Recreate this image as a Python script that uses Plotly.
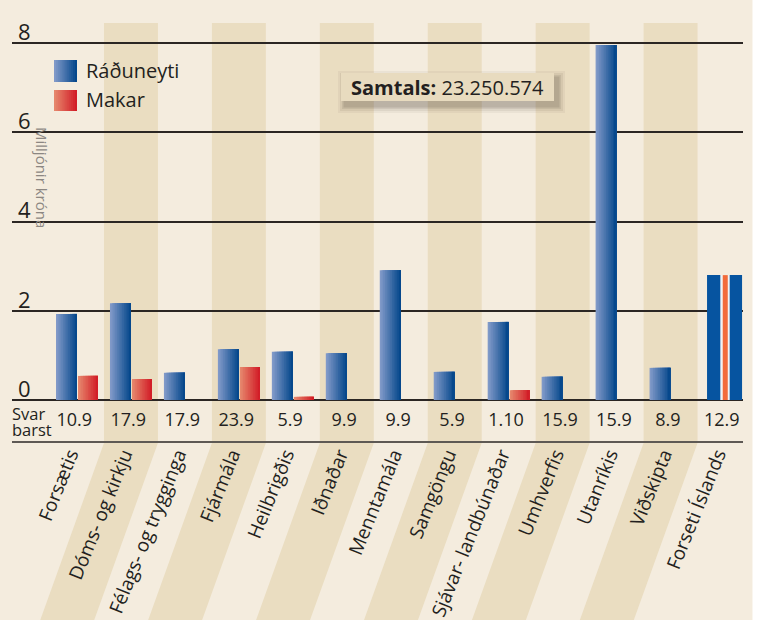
import plotly.graph_objects as go

# ---------------- data ----------------
categories = ["Forsætis", "Dóms- og kirkju", "Félags- og trygginga", "Fjármála",
              "Heilbrigðis", "Iðnaðar", "Menntamála", "Samgöngu",
              "Sjávar- landbúnaðar", "Umhverfis", "Utanríkis", "Viðskipta",
              "Forseti Íslands"]
raduneyti = [1.93, 2.17, 0.61, 1.14, 1.08, 1.05, 2.91, 0.63, 1.75, 0.52, 7.96, 0.72, 2.80]
makar = [0.54, 0.47, None, 0.74, 0.07, None, None, None, 0.22, None, None, None, None]
svar_barst = ["10.9", "17.9", "17.9", "23.9", "5.9", "9.9", "9.9", "5.9",
              "1.10", "15.9", "15.9", "8.9", "12.9"]
y_ticks = [0, 2, 4, 6, 8]
y_tick_text = ["0", "2", "4", "6", "8"]
series_names = ["Ráðuneyti", "Makar"]
total_label = "<b>Samtals:</b> 23.250.574"
y_title = "Milljónir króna"

# ---------------- layout geometry ----------------
W, H = 778, 620
L_PX, R_PX, T_PX, B_PX = 12, 743, 4, 441
BAND_TOP = 23
CAT0_PX, CAT_STEP = 77.0, 53.96
ZERO_PX, UNIT_PX = 400.0, 44.6
X_RANGE = [(L_PX - CAT0_PX) / CAT_STEP, (R_PX - CAT0_PX) / CAT_STEP]
Y_RANGE = [(ZERO_PX - B_PX) / UNIT_PX, (ZERO_PX - T_PX) / UNIT_PX]

FONT = "Open Sans"
TXT = "#231F20"
CREAM = "#F4ECDE"
BAND = "#EADDC1"


def px_x(v):
    return CAT0_PX + CAT_STEP * v


def pap_x(px):
    return (px - L_PX) / (R_PX - L_PX)


def pap_y(py):
    return (B_PX - py) / (B_PX - T_PX)


def lerp(c1, c2, t):
    return "rgb(%d,%d,%d)" % tuple(round(a + (b - a) * t) for a, b in zip(c1, c2))


BLUE_L, BLUE_D = (128, 153, 200), (6, 72, 140)
RED_L, RED_D = (230, 134, 108), (210, 30, 40)

fig = go.Figure()
N = 12

# gradient bars (overlapping slices so there are no seams)
n_main = len(categories) - 1
xs = list(range(n_main))
b_off, b_w = -0.389, 0.389
for k in range(N):
    t = k / (N - 1)
    fig.add_trace(go.Bar(
        x=xs, y=raduneyti[:n_main], offset=b_off + k * b_w / N, width=b_w - k * b_w / N,
        marker=dict(color=lerp(BLUE_L, BLUE_D, t), line=dict(width=0)),
        showlegend=False, hoverinfo="skip"))
rx = [i for i in xs if makar[i] is not None]
ry = [makar[i] for i in rx]
r_off, r_w = 0.0185, 0.37
for k in range(N):
    t = k / (N - 1)
    fig.add_trace(go.Bar(
        x=rx, y=ry, offset=r_off + k * r_w / N, width=r_w - k * r_w / N,
        marker=dict(color=lerp(RED_L, RED_D, t), line=dict(width=0)),
        showlegend=False, hoverinfo="skip"))

# Forseti Íslands "flag" bar
fx = [len(categories) - 1]
fy = [raduneyti[-1]]
for off, w, col in [(-0.324, 0.649, "#0654A0"), (-0.078, 0.174, "#F2F2F2"),
                    (-0.033, 0.093, "#F26B3A")]:
    fig.add_trace(go.Bar(x=fx, y=fy, offset=off, width=w,
                         marker=dict(color=col, line=dict(width=0)),
                         showlegend=False, hoverinfo="skip"))

# "Svar barst" values row
fig.add_trace(go.Scatter(
    x=[i - 0.05 for i in range(len(categories))], y=[-0.48] * len(categories),
    mode="text", text=svar_barst, textposition="middle center",
    textfont=dict(family=FONT, size=18, color=TXT),
    showlegend=False, hoverinfo="skip"))

shapes = []
# white strip at right
shapes.append(dict(type="rect", xref="paper", yref="paper",
                   x0=pap_x(752.5), x1=pap_x(800), y0=pap_y(-10), y1=pap_y(640),
                   fillcolor="white", line=dict(width=0), layer="below"))
# alternating stripes (vertical, then slanted under the axis)
SLOPE = 0.36
for i in range(1, len(categories), 2):
    xl, xr = px_x(i - 0.5), px_x(i + 0.5)
    yb = 443
    dy = 640 - yb
    pts = [(xl, BAND_TOP), (xr, BAND_TOP), (xr, yb), (xr - SLOPE * dy, 640),
           (xl - SLOPE * dy, 640), (xl, yb)]
    path = "M " + " L ".join("%f,%f" % (pap_x(a), pap_y(b)) for a, b in pts) + " Z"
    shapes.append(dict(type="path", xref="paper", yref="paper", path=path,
                       fillcolor=BAND, line=dict(width=0), layer="below"))

# legend swatches
for (y0, y1), (cl, cd) in [((60, 82), (BLUE_L, BLUE_D)), ((90, 111), (RED_L, RED_D))]:
    x0, x1 = 54, 77
    for k in range(N):
        t = k / (N - 1)
        shapes.append(dict(type="rect", xref="paper", yref="paper",
                           x0=pap_x(x0 + (x1 - x0) * k / N), x1=pap_x(x1),
                           y0=pap_y(y1), y1=pap_y(y0),
                           fillcolor=lerp(cl, cd, t), line=dict(width=0), layer="above"))

# total box with soft shadow
bx0, bx1, by0, by1 = 341, 554, 73, 101
for g, op in [(7, 0.05), (5, 0.07), (3, 0.09), (1.5, 0.12)]:
    shapes.append(dict(type="rect", xref="paper", yref="paper",
                       x0=pap_x(bx0 + 4 - g), x1=pap_x(bx1 + 4 + g),
                       y0=pap_y(by1 + 5 + g), y1=pap_y(by0 + 5 - g),
                       fillcolor="rgba(50,40,30,%f)" % op, line=dict(width=0), layer="above"))
shapes.append(dict(type="rect", xref="paper", yref="paper",
                   x0=pap_x(bx0), x1=pap_x(bx1), y0=pap_y(by1), y1=pap_y(by0),
                   fillcolor="#E8DBBF", line=dict(width=0), layer="above"))

annotations = [
    dict(xref="paper", yref="paper", x=pap_x(84), y=pap_y(71), text=series_names[0],
         showarrow=False, xanchor="left", yanchor="middle",
         font=dict(family=FONT, size=20, color=TXT)),
    dict(xref="paper", yref="paper", x=pap_x(84), y=pap_y(100), text=series_names[1],
         showarrow=False, xanchor="left", yanchor="middle",
         font=dict(family=FONT, size=20, color=TXT)),
    dict(xref="paper", yref="paper", x=pap_x((bx0 + bx1) / 2), y=pap_y((by0 + by1) / 2),
         text=total_label, showarrow=False, xanchor="center", yanchor="middle",
         font=dict(family=FONT, size=20, color=TXT)),
    dict(xref="paper", yref="paper", x=pap_x(42), y=pap_y(177), text=y_title,
         textangle=90, showarrow=False, xanchor="center", yanchor="middle",
         font=dict(family=FONT, size=15, color="#8C8782")),
    dict(xref="paper", yref="paper", x=pap_x(10), y=pap_y(413), text="Svar",
         showarrow=False, xanchor="left", yanchor="middle",
         font=dict(family=FONT, size=16.5, color=TXT)),
    dict(xref="paper", yref="paper", x=pap_x(10), y=pap_y(429), text="barst",
         showarrow=False, xanchor="left", yanchor="middle",
         font=dict(family=FONT, size=16.5, color=TXT)),
]

fig.update_layout(
    width=W, height=H,
    margin=dict(l=L_PX, r=W - R_PX, t=T_PX, b=H - B_PX, pad=0, autoexpand=False),
    paper_bgcolor=CREAM, plot_bgcolor="rgba(0,0,0,0)",
    barmode="overlay", showlegend=False,
    shapes=shapes, annotations=annotations,
    xaxis=dict(range=X_RANGE, tickmode="array", tickvals=list(range(len(categories))),
               ticktext=categories, tickangle=-68, showgrid=False, zeroline=False,
               showline=True, linecolor="#5E5954", linewidth=2, ticks="",
               ticklabelstandoff=-7, ticklabelshift=-7, automargin=False,
               tickfont=dict(family=FONT, size=19, color=TXT), fixedrange=True),
    yaxis=dict(range=Y_RANGE, tickmode="array", tickvals=y_ticks, ticktext=y_tick_text,
               showgrid=True, gridcolor="#2B2623", gridwidth=1.5, zeroline=False,
               showline=False, ticks="", ticklabelposition="inside",
               ticklabelshift=-11, ticklabelstandoff=3, automargin=False,
               tickfont=dict(family=FONT, size=22, color=TXT), fixedrange=True),
)

fig.write_html("out.html")
